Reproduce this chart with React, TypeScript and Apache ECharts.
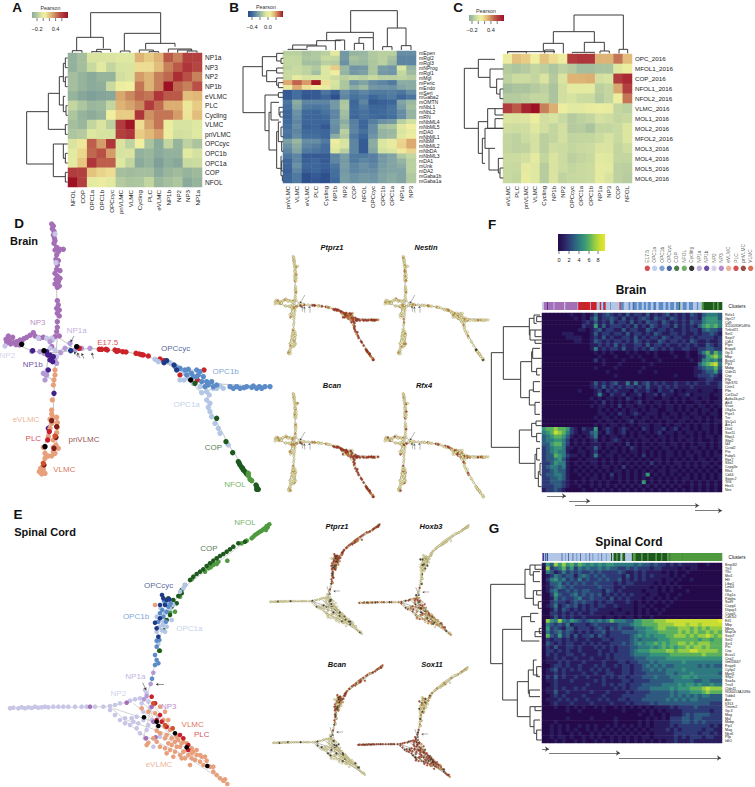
import React, { useEffect, useRef } from "react";
import * as echarts from "echarts";

const FONT = "Liberation Sans";

/* ---------- A ---------- */
const aRows = ["NP1a","NP3","NP2","NP1b","eVLMC","PLC","Cycling","VLMC","pnVLMC","OPCcyc","OPC1b","OPC1a","COP","NFOL"];
const aCols = ["NFOL","COP","OPC1a","OPC1b","OPCcyc","pnVLMC","VLMC","Cycling","PLC","eVLMC","NP1b","NP2","NP3","NP1a"];
const aValues = [
[-.28,-.2,-.02,-.02,-.02,0,0,.28,.2,.28,.52,.42,.6,.6],
[-.28,-.2,-.08,.02,-.1,-.03,-.02,.15,.15,.25,.42,.52,.65,.58],
[-.2,-.27,-.33,-.27,-.27,-.05,-.02,.35,.28,.42,.48,.68,.55,.42],
[-.2,-.27,-.33,-.3,-.08,.08,.1,.45,.28,.42,.8,.48,.42,.55],
[-.27,-.35,-.4,-.36,-.35,.32,.4,.48,.45,.65,.52,.52,.25,.27],
[-.1,-.17,-.25,-.23,-.1,.28,.33,.4,.62,.47,.3,.3,.12,.2],
[-.17,-.27,-.32,-.27,.1,.2,.2,.65,.38,.45,.45,.35,.13,.25],
[-.2,-.25,-.1,-.02,-.13,.62,.78,.15,.33,.45,.08,-.03,-.03,0],
[-.17,-.15,0,-.03,-.03,.6,.65,.2,.26,.35,.08,-.05,-.04,0],
[-.02,.12,.5,.35,.65,-.02,-.12,.1,-.18,-.33,-.1,-.27,-.12,-.18],
[.02,.17,.48,.55,.35,-.03,-.02,-.28,-.25,-.33,-.28,-.28,.02,-.04],
[.03,.22,.65,.5,.5,0,-.1,-.33,-.27,-.4,-.3,-.35,-.08,-.07],
[.62,.6,.23,.18,.15,-.2,-.22,-.2,-.2,-.33,-.25,-.22,-.27,-.23],
[.8,.6,.03,.07,.02,-.15,-.18,-.17,-.1,-.25,-.2,-.17,-.33,-.27],
];
/* ---------- B ---------- */
const bRows = ["mEpen","mRgl2","mRgl3","mNProg","mRgl1","mMgl","mPeric","mEndo","mSert","mGaba2","mOMTN","mNbL1","mNbL2","mRN","mNbML4","mNbML5","mDA0","mNbML1","mNbM","mNbML2","mNbDA","mNbML3","mDA1","mUnk","mDA2","mGaba1b","mGaba1a"];
const bCols = ["pnVLMC","VLMC","eVLMC","PLC","Cycling","NP1b","NP2","COP","NFOL","OPCcyc","OPC1b","OPC1a","NP1a","NP3"];
const bValues = [
[-.1,-.1,-.14,-.12,-.1,.02,-.25,-.18,-.17,-.12,-.1,-.1,-.28,-.28],
[-.08,-.08,-.13,-.12,-.07,-.08,-.25,-.14,-.16,-.12,-.1,-.14,-.3,-.3],
[-.08,-.08,-.15,-.15,-.1,-.11,-.27,-.16,-.17,-.13,-.1,-.16,-.3,-.3],
[-.09,-.07,-.09,-.12,-.01,.14,-.17,-.26,-.25,-.13,-.24,-.26,-.03,-.18],
[-.07,-.07,-.09,-.15,-.02,.06,-.18,-.25,-.23,-.13,-.25,-.26,-.08,-.16],
[-.07,.03,-.04,-.02,-.02,-.06,-.1,-.08,-.1,-.07,-.1,-.1,-.09,-.11],
[.2,.3,.22,.4,.1,-.04,-.13,-.26,-.22,-.28,-.3,-.33,-.2,-.2],
[.04,.2,.1,.07,.03,-.05,-.13,-.2,-.16,-.25,-.26,-.27,-.22,-.2],
[-.42,-.36,-.42,-.42,-.34,-.4,-.28,-.33,-.3,-.33,-.33,-.32,-.34,-.28],
[-.42,-.36,-.44,-.42,-.38,-.46,-.3,-.35,-.33,-.38,-.35,-.33,-.38,-.34],
[-.34,-.2,-.3,-.3,-.3,-.25,-.13,-.38,-.3,-.42,-.4,-.38,-.22,-.17],
[-.36,-.22,-.33,-.34,-.33,-.25,-.12,-.37,-.33,-.38,-.38,-.35,-.24,-.15],
[-.38,-.27,-.37,-.38,-.35,-.3,-.15,-.37,-.35,-.38,-.37,-.35,-.28,-.18],
[-.38,-.28,-.38,-.38,-.37,-.3,-.16,-.38,-.35,-.37,-.38,-.36,-.28,-.18],
[-.37,-.3,-.38,-.38,-.38,-.27,-.2,-.32,-.38,-.32,-.27,-.25,-.1,-.05],
[-.36,-.28,-.4,-.38,-.43,-.28,-.17,-.31,-.38,-.28,-.15,-.13,0,.07],
[-.34,-.3,-.37,-.37,-.38,-.28,-.1,-.3,-.35,-.28,-.18,-.17,-.03,.03],
[-.35,-.28,-.36,-.36,-.38,-.2,-.12,-.33,-.38,-.26,-.18,-.16,0,.05],
[-.23,-.17,-.28,-.28,-.33,.05,-.04,-.3,-.42,-.2,-.03,.03,.12,.2],
[-.27,-.2,-.3,-.32,-.36,.03,-.03,-.3,-.42,-.2,-.02,.03,.13,.2],
[-.3,-.22,-.33,-.34,-.36,-.02,-.1,-.3,-.42,-.22,-.05,-.03,.08,.12],
[-.34,-.3,-.42,-.42,-.42,-.3,-.24,-.33,-.33,-.32,-.25,-.22,-.12,-.08],
[-.38,-.3,-.4,-.38,-.42,-.3,-.25,-.33,-.3,-.32,-.25,-.22,-.18,-.1],
[-.38,-.27,-.38,-.38,-.4,-.34,-.24,-.3,-.27,-.3,-.24,-.22,-.2,-.1],
[-.4,-.3,-.4,-.38,-.42,-.36,-.25,-.3,-.28,-.28,-.23,-.22,-.22,-.1],
[-.38,-.33,-.46,-.42,-.46,-.36,-.24,-.27,-.25,-.26,-.22,-.2,-.22,-.12],
[-.38,-.33,-.46,-.44,-.46,-.37,-.24,-.27,-.25,-.26,-.22,-.2,-.22,-.12],
];
/* ---------- C ---------- */
const cRows = ["OPC_2016","MFOL1_2016","COP_2016","NFOL1_2016","NFOL2_2016","VLMC_2016","MOL1_2016","MOL2_2016","MFOL2_2016","MOL3_2016","MOL4_2016","MOL5_2016","MOL6_2016"];
const cCols = ["eVLMC","PLC","pnVLMC","VLMC","Cycling","NP1b","NP2","OPCcyc","OPC1a","OPC1b","NP1a","NP3","COP","NFOL"];
const cValues = [
[.08,.24,.2,.1,.23,.15,.08,.62,.65,.65,.28,.28,.45,.25],
[-.15,-.17,-.15,-.1,-.13,-.17,-.12,-.15,-.2,-.2,-.18,-.18,0,.08],
[-.12,-.07,-.07,-.1,-.02,-.15,-.02,.28,.28,.3,-.05,-.03,.62,.7],
[-.2,-.18,-.18,-.15,-.12,-.18,-.05,.03,.03,.03,-.13,-.1,.32,.6],
[-.15,-.15,-.13,-.1,-.1,-.18,-.05,-.03,-.07,-.07,-.15,-.1,.08,.45],
[.62,.52,.72,.8,.42,.3,.08,.02,.02,.06,.07,.05,-.1,-.12],
[-.01,-.02,-.01,.08,-.05,-.03,-.08,-.15,-.12,-.1,-.04,-.06,-.1,-.08],
[-.06,-.07,-.06,0,-.05,-.1,-.05,-.15,-.14,-.18,-.1,-.1,-.08,-.01],
[-.1,-.12,-.07,-.04,-.13,-.1,-.05,-.11,-.1,-.1,-.07,-.03,-.08,-.01],
[-.1,-.12,-.11,-.04,-.13,-.06,-.07,-.1,-.08,-.07,-.02,-.02,-.1,-.06],
[-.07,-.07,-.05,.03,-.1,-.02,-.07,-.13,-.1,-.08,.02,0,-.1,-.1],
[-.08,-.09,.04,0,-.14,-.02,-.07,-.1,-.08,-.07,.04,.02,-.12,-.13],
[-.08,-.1,.06,0,-.14,-.02,-.11,-.09,-.08,-.07,.04,-.02,-.12,-.14],
];
const pearsonWarm = ["#7f9f9b","#8fae9b","#a5bf9e","#c4d6a0","#dfe8a0","#f0eea0","#e8cc84","#dcae72","#c98a5e","#bd5f4c","#b2403f","#a92a33","#9e1124"];
const pearsonCool = ["#2c4a8a","#3f6a9c","#6f95a6","#a3bfa0","#d6e4a0","#f2eea0","#e2b878","#c46a50","#a01624"];
const viridisLike = ["#240a4a","#2a1d5e","#2e3a75","#2d5a7e","#2f7a80","#37957a","#5bb060","#94cc45","#c8dd35","#e8e52b"];

/* ---------- Dendrograms: top [xL,xR,yTop,yBotL,yBotR]; left [yT,yB,x,xEndT,xEndB] ---------- */
const aTopTree = [[272,482,38,112,100],[373,482,100,152,130],[230,310,112,152,145],[217,246,152,158,158],[290,332,148,156,156],[275,304,155,158,158],[361,390,153,158,158],[437,525,130,148,140],[418,460,150,158,155],[447,476,155,158,158],[505,575,147,157,150],[533,575,150,158,153],[562,591,153,158,158]];
const aLeftTree = [[335,492,80,145,160],[280,388,145,178,196],[374,403,196,203,203],[230,315,178,190,190],[190,245,190,196,196],[174,203,196,203,203],[231,260,196,203,203],[289,335,190,196,198],[317,346,198,203,203],[432,530,160,190,196],[432,475,190,203,196],[460,489,196,203,203],[517,546,196,203,203]];
const bTopTree = [[317,457,32,97,84],[245,385,97,122,113],[427,483,84,140,137],[413,441,140,150,150],[469,498,137,150,150],[215,287,122,135,120],[271,299,120,150,150],[342,385,113,130,150],[328,356,130,150,150],[143,215,135,148,138],[129,186,148,150,150],[186,243,138,145,150]];
const bLeftTree = [[200,338,-6,52,60],[170,228,52,95,65],[160,183,95,115,108],[175,190,108,115,115],[212,245,65,95,95],[204,219,95,115,115],[234,256,95,115,100],[248,263,100,115,115],[285,392,60,100,72],[278,292,100,115,115],[337,450,72,78,95],[307,360,78,102,102],[322,345,102,115,105],[336,351,105,115,115],[395,505,95,100,108],[366,425,100,108,110],[381,410,108,115,115],[425,454,110,115,115],[469,527,108,110,112],[483,513,110,115,115],[527,542,112,115,115]];
const cTopTree = [[237,385,45,95,148],[175,298,95,130,127],[372,398,148,160,160],[145,205,130,153,160],[268,328,127,155,153],[38,180,155,160,155],[149,177,150,160,160],[232,298,157,160,160],[315,343,153,160,160],[38,94,155,160,160]];
const cLeftTree = [[205,385,-92,-50,-50],[178,232,-50,0,-15],[207,262,-15,25,5],[237,282,5,25,15],[267,296,15,25,25],[365,460,-50,-22,-38],[326,385,-22,0,0],[356,385,0,25,25],[326,345,0,25,25],[415,490,-38,-30,-30],[385,445,-30,25,-18],[445,510,-18,0,10],[475,519,10,25,15],[504,534,15,25,25]];
const fLeftTree = [[413,697,4,40,88],[335,493,40,118,92],[310,360,118,132,120],[300,325,132,150,140],[305,320,140,155,155],[345,375,120,135,135],[345,365,135,155,155],[375,385,135,155,155],[440,548,92,125,118],[410,470,125,128,140],[400,430,128,150,155],[460,480,140,155,150],[525,570,118,130,135],[500,530,130,150,150],[562,598,135,150,150],[645,745,88,125,135],[625,665,125,138,140],[618,632,138,155,155],[655,680,140,155,150],[718,790,135,140,145],[700,735,140,150,150],[770,815,145,150,155],[745,780,150,155,155]];
const gLeftTree = [[253,491,2,105,38],[388,600,38,95,82],[208,295,105,120,130],[195,225,120,135,130],[195,208,135,155,155],[215,245,130,150,150],[272,315,130,140,145],[272,285,140,155,155],[305,325,145,155,155],[350,423,95,122,148],[340,365,122,145,135],[395,410,135,155,155],[385,400,148,155,155],[545,650,82,115,120],[510,580,115,130,118],[480,525,130,140,145],[500,530,140,155,150],[570,590,118,150,150],[620,680,120,135,132],[620,632,135,155,155],[660,700,132,150,140],[690,720,140,155,155]];

/* ---------- F, G heatmaps: one digit (0-9 expression) per block ---------- */
const fGenes = ["Rele1","Gpr17","Cd9","3110035E14Rik","Tnfrsf21","Sirt2","Sept7","Cdh1","Ptpn","Enpp6","Gjc3","Mbp","Bcas1","Plp1","Mobp","Cldn11","Cnp","Pllp","Gpr37l1","Cntn1","Plin","Col11a2","Apba1b-ps2","Abi3","Vcan","Olig1a","Ptpz1","Tnr","Slc1a1","Arx1","Dlx6","Sox11","Rbpj1","Sfrp2","Id4","Ccnd2","Ptn","Fabp5","Rgs7","Sox2","Cspg3e","Rfx4","Cd44","Sparc2","Tcf4","Hes5","Nes"];
const gGenes = ["Bnip3l2","Tfr3","Tfrc","Mxi1","Hlf","Ltbp1","Lmo3","Nfia","Olig1a","Pdgfra","Sox9","Cspg4","Dlgap1","Cspg5","Cdk5r2","Eif1","Mbp","Mbsn","Map1b","Sept7","Sirt2","Sirt1","Ptn","Cnp","Bcas1","Cnp2","Gm33667","Enpp6","Cyfip2","Mpzl1","Sfrp2","Sox4a","Tns3","Cldn11","9630013A20Rik","Tubb4","Apc","Klf13","Tmem2","Gjc3","Mog","Mal","Mobp","Plp1","Mag","Nkx6","Pllp","Idh1"];
const fRowsText = ["000000010010131232121312213121231212132134443","000000001010241223213121232132213212122145553","000000000012131213122131213221321212132245554","000000000021151312221213121321221312121356564","000000000110123122113122113212212112122134332","000001110000131221221312212132112212112122321","000000111100121312112213121221321221121222212","000000001100132121221213212113212212132112112","000000000000112121312112213122121121212113212","000000000000141212213112121321212112211223322","000000000000010101000101001010001000100246364","000000000000001000100010100010000100100125675","000000000000020100001000010001000000010145453","000000000000000100010000000100000000000356784","000000000000010000100000010000000000001234463","000000000000000010000000100010000000001123352","000000000000000000100000000000000100001222321","000000000000000000000000000000000000000112211","000000000000131212311414123121211211212112112","000000000000121312121221213112121211121111112","000000000100012021211102112102112010111011101","000000000000014102112011201120211011201111011","000000000000101011010210101100110101011011001","000000000000010201010101201011010101001101011","000000000000101101020110110101011010110110101","000000000000001010101011010110011010101011010","000000000000001101021012101110101101011010110","000000000000010110101101011010110101101101010","000000000000001011010120110101011011010101011","000000000000010101101010111011010110101011010","566766521021150121012101021011201201101011010","456876421011341021012010101012011010110101010","345665310101240101101010110101101011010101101","344554201010120101210101011010101010110100101","335664201010111011010201010101101101010110101","234554110101131010101021011010110101011010101","234544100110120101101011010101011010101101010","233654211010141011010101020101011010110101011","233453100101110101011010101011010101010110101","223544101010110101010101010201010110101011010","234434100101010110102010101010101010101010101","223433101010101010110101010101101101010101010","233443100101010102010101015010101010101010101","223343100010110101010101010101010101101010101","223332101010101010010101050101010101010101010","222332100100101010101010101010101010010101010","122321000010010101010101010101010101010101010"];
const gRowsText = ["153757564654545455444443433232212121111001000","072346352434334343322323222122111101011000000","043124232322323222232112121111010100100000000","012432331343232322221312121211110101000000000","024534232423223232231212121111011010010000000","013342323232232222121221111101010100000000000","012343232222223222112111111010101010000000000","013422323233222132121111101110101000100000000","002532234232323121212121110110010010000000000","001423223422322213121211101101010100000000000","002322123232212122111210101010101000000000000","012412323121212211211110110100010000000000000","001313212121221111101110101010100000000000000","002212121211211110111010101001000000000000000","001312121121111011010110100100000000000000000","075474354323434346444335566677788888888888889","043232412221232222233345566667777888788788888","052321331222123213232224445567766677767676777","042342321212122312223333445556666676767667676","063252313122313212222234545455566777676778767","021221212112111221222234344445556666666566566","032121221121212112223234545565656677676777666","021311221211121212122233444545656566767767666","022121211211112112122234555666677677788777776","021211221121112121222234444555556666666676666","011212112111211121222223334444455555555555555","011121211121111211122122333434444445444444444","001221211211121211212212234343433444444343433","012312121211212121112212233434344445444444444","011212111121121122112212223333344344454444443","021312112112111212122122233343334445545444444","011211121111121211112212222333333444443344333","001211111112111212122122233333444454554544544","011212112121111111212122333444445455566678777","011311211111211121111212222333334344455567666","001212111121111211112222223333334343434344333","011121212112112121122122233333343434344333333","001211121111211112111212222323333333333333222","000100101010010100101010101011112122223222222","000000100100000100001000010101011112222222122","000000000000000000000000100100101112323333222","000000100000100000100000001010102223323322222","000100000000000000100000101011112223323232222","001010100101010010101010101011112122222222121","001010101001010101010101010111121212222212211","001010010100101010101010101011111222222122121","001011010010101001010101011011111212122212211","000101001010010101010101010101011211121111111"];
const heatColumns = Array.from({ length: 45 }, (_, i) => String(i));

/* ---------- clusters ---------- */
const clusterNames = ["E17.5","OPC1a","OPC1b","OPCcyc","COP","NFOL","Cycling","NP1a","NP1b","NP2","NP3","eVLMC","PLC","pnVLMC","VLMC"];
const clusterColors = ["#cc2229","#b3c6e6","#5b8cc8","#1f3b87","#1e5a1e","#4f9a3f","#000000","#b39ad6","#46208a","#c8c6e6","#a56fb8","#e8a07c","#c8202a","#7a2018","#d0502a"];
const fStrip: [number, number][] = [[9,5],[10,8],[8,3],[10,12],[7,4],[10,24],[9,3],[10,30],[7,3],[0,13],[13,1],[0,16],[9,2],[0,15],[1,8],[0,4],[1,5],[3,2],[0,4],[1,8],[9,3],[2,2],[1,22],[0,3],[2,8],[1,12],[2,5],[1,6],[3,2],[2,8],[1,4],[2,9],[1,5],[2,6],[1,4],[2,8],[1,6],[2,4],[3,2],[1,8],[2,12],[1,5],[2,8],[1,4],[2,10],[1,5],[2,8],[4,3],[1,6],[2,10],[1,6],[2,10],[1,10],[2,4],[1,8],[5,5],[4,24],[5,3],[4,8],[5,4],[4,8]];
const gStrip: [number, number][] = [[10,3],[3,3],[1,3],[3,2],[1,2],[3,3],[1,38],[3,2],[1,8],[2,2],[1,6],[3,2],[1,10],[3,2],[1,8],[2,3],[1,8],[3,2],[1,12],[2,3],[1,8],[3,2],[1,6],[2,3],[1,12],[2,2],[1,8],[3,2],[1,10],[2,2],[1,12],[4,3],[1,4],[4,8],[5,3],[4,8],[1,4],[5,3],[4,6],[1,18],[4,4],[5,6],[4,16],[5,3],[4,14],[5,2],[4,20],[5,4],[4,12],[5,2],[4,14],[5,6],[4,3],[5,32],[4,1],[5,28],[5,80]];
const clusterDots = [472,494,516,538,560,583,605,628,650,672,694,716,738,760,782];

/* ---------- D network points ---------- */
const dNP3 = [[155,42],[160,48],[157,56],[162,64],[160,75],[163,84],[165,92],[162,100],[170,112],[180,118],[190,118],[175,125],[165,120],[170,135],[168,148],[175,152],[172,165],[170,178],[180,182],[165,190],[172,198],[180,205],[168,208],[175,215],[165,222],[172,232],[178,228],[172,272],[175,285],[170,295],[178,300],[172,310],[178,318],[172,335],[172,352],[170,365],[178,378],[165,380],[100,368],[90,376],[105,378],[80,382],[72,386],[60,390],[50,395],[25,378],[38,382],[18,388],[28,392],[42,398],[20,398],[32,402],[48,404],[58,405],[65,398],[130,382],[118,385],[155,410]];
const dNP2 = [[15,408],[165,72],[168,158],[115,385],[155,385],[165,420],[158,390],[140,385],[150,415],[170,440]];
const dNP1a = [[95,424],[120,425],[132,430],[170,460],[182,428],[195,415],[210,400],[225,420],[245,415],[270,415],[150,395],[135,510],[140,495],[142,480],[150,440],[138,495],[130,490],[165,450]];
const dNP1b = [[98,422],[140,425],[150,435],[155,445],[160,440],[150,450],[158,455],[145,480],[162,550],[145,655],[143,435]];
const dE175 = [[298,418],[318,418],[322,420],[345,420],[355,422],[368,425],[378,426],[408,430],[418,432],[430,435],[445,438],[480,447],[492,452],[540,495],[612,480],[592,510],[238,415],[305,418],[350,424],[425,434]];
const dOPCcyc = [[212,422],[492,458],[500,452],[522,465],[530,480]];
const dOPC1a = [[465,448],[475,455],[510,458],[530,470],[545,480],[555,490],[540,510],[565,505],[580,520],[600,530],[620,545],[605,548],[628,555],[640,535],[620,570],[630,580],[625,592],[630,605],[635,620],[645,640],[655,655],[660,670],[685,705],[552,510],[570,490],[660,528],[650,535],[670,535]];
const dOPC1b = [[525,470],[540,475],[555,480],[565,478],[575,490],[590,480],[600,485],[595,495],[580,500],[610,500],[605,515],[620,515],[635,515],[640,530],[625,525],[650,525],[690,530],[710,530],[720,535],[740,530],[755,532],[770,535],[785,535],[795,530],[810,530],[700,535],[732,533],[760,528],[778,530],[590,500],[560,495],[615,530]];
const dCOP = [[650,625],[678,695],[698,728],[715,755],[720,765],[725,772],[730,780],[735,785],[740,792],[718,760],[728,775],[585,520],[770,830],[775,838],[770,838],[768,825]];
const dNFOL = [[750,808],[745,797],[745,790],[755,812]];
const dCycling = [[65,403],[132,422],[230,410],[135,710],[572,510]];
const deVLMC = [[165,480],[165,495],[162,510],[160,525],[157,570],[155,600],[155,612],[160,622],[170,622],[172,638],[150,628],[172,652],[170,668],[160,690],[168,705],[175,715],[160,712],[155,640],[150,655],[130,712],[135,730],[145,738],[155,738],[165,730],[135,745],[122,775],[130,778],[118,785],[125,792],[135,790],[128,770],[160,725],[145,680]];
const dPLC = [[143,690],[148,665]];
const dpnVLMC = [[170,650],[168,682],[155,632],[162,715],[132,765]];
const dVLMC = [[130,760],[165,678]];
const dEdges = [[[155,42],[165,120],[170,230],[172,380],[165,470],[160,600],[155,625],[172,650],[170,700],[165,735],[135,740],[135,700],[148,640],[155,610]],[[135,740],[125,790]],[[18,388],[60,395],[100,372],[150,385],[172,380]],[[18,388],[60,408],[100,424],[150,430],[215,410],[172,380]],[[150,430],[270,415],[380,425],[470,448],[540,480],[620,520],[810,530]],[[620,520],[625,590],[690,710],[775,838]],[[540,480],[605,550],[640,535]],[[555,480],[600,480],[625,525]],[[145,430],[138,500],[162,510]]];
const dArrows = [[[222,378],[212,396]],[[235,442],[222,425]],[[240,444],[232,428]],[[252,446],[245,430]],[[280,446],[276,428]]];
const dMiniArrows = [[[246,339],[208,403]],[[228,467],[223,423]],[[246,475],[241,429]],[[280,475],[280,423]]];
const dLabels: [string,number,number,string][] = [["NP3",113,338,"#a56fb8"],["NP1a",230,360,"#b39ad6"],["E17.5",323,396,"#cc2229"],["OPCcyc",527,415,"#1f3b87"],["OPC1b",677,483,"#5b8cc8"],["NP2",22,435,"#c8c6e6"],["NP1b",98,462,"#46208a"],["OPC1a",560,582,"#b3c6e6"],["eVLMC",78,629,"#e8a07c"],["PLC",100,686,"#c8202a"],["pnVLMC",252,688,"#7a2018"],["COP",640,712,"#1e5a1e"],["VLMC",193,779,"#d0502a"],["NFOL",705,822,"#4f9a3f"]];

/* ---------- E network points ---------- */
const eNFOL = [[808,103],[800,108],[795,115],[790,118],[785,122],[780,125],[775,128],[770,132],[765,135],[760,140],[755,145],[803,112],[798,120],[740,152],[725,160],[682,212],[625,235],[640,225],[650,222],[632,232],[615,245],[575,268],[655,215],[480,482],[510,368],[540,320],[525,365]];
const eCOP = [[735,155],[715,160],[700,170],[690,178],[680,185],[670,192],[660,198],[650,205],[640,212],[630,220],[620,228],[610,238],[600,245],[590,252],[580,260],[570,270],[555,285],[545,300],[535,318],[520,330],[505,325],[510,375],[500,390],[530,340],[478,482],[545,310],[515,350],[490,420]];
const eOPCcyc = [[486,315],[490,325],[500,330],[480,385],[465,398],[470,415],[475,440],[495,345],[480,345],[508,328]];
const eOPC1b = [[495,340],[487,360],[500,365],[490,380],[505,350],[512,340],[480,370],[475,395],[478,450],[470,470],[465,495],[470,510],[465,525],[475,520],[456,566],[492,332],[498,395],[470,452]];
const eOPC1a = [[520,345],[510,355],[490,395],[500,410],[485,420],[470,425],[495,425],[488,405],[515,390],[540,305],[550,295],[555,285],[475,462],[505,340],[482,355],[470,380],[495,370],[478,410]];
const eNP2 = [[30,655],[40,653],[55,655],[65,652],[75,655],[85,652],[95,654],[105,650],[115,653],[125,652],[135,650],[145,652],[160,650],[175,650],[190,650],[205,650],[225,650],[245,650],[260,650],[285,650],[310,650],[330,648],[345,645],[360,640],[390,632],[405,628],[420,625],[330,660],[345,675],[360,690],[375,700],[390,705],[400,695],[410,715],[420,730],[435,745],[415,700],[430,690],[440,720],[445,635],[440,610],[435,600],[425,640],[450,655],[395,685],[410,680],[375,685],[430,665],[455,690],[475,680],[480,740],[460,770],[445,705]];
const eNP1a = [[460,548],[452,582],[440,618],[432,628]];
const eNP3 = [[380,638],[270,650],[460,695],[467,742],[438,745],[455,650]];
const eVLMCpts = [[425,655],[445,665],[465,670],[490,690],[470,722],[495,745],[505,760],[515,745],[525,755],[540,770],[550,785],[565,795],[575,805],[585,810],[600,815],[610,825],[630,830],[640,845],[650,855],[660,865],[670,872],[682,882],[675,868],[640,830],[620,812],[605,800],[590,795],[575,790],[560,780],[545,760],[530,740],[510,720],[495,710],[470,755],[480,770],[495,775],[510,780],[525,785],[540,795],[555,805],[570,825],[445,758],[440,765],[460,745],[480,730],[500,735],[515,765],[530,770],[575,775],[590,780],[600,795],[615,800],[535,750],[550,755],[500,790],[520,800],[465,640],[480,650],[495,665],[505,690],[465,345],[580,785],[560,760],[545,805]];
const ePLC = [[455,620],[465,640],[470,690],[485,695],[500,710],[540,735],[565,765],[550,745],[565,780],[480,675]];
const eVLMCdark = [[518,715],[495,705],[460,640]];
const eCycling = [[432,682],[475,708],[525,730],[622,828],[470,695],[560,772]];
const eEdges = [[[30,655],[330,650],[440,620],[455,570],[480,440],[540,300],[808,103]],[[330,650],[420,730],[560,800],[682,882]],[[440,620],[520,720],[682,882]],[[440,625],[470,720],[560,790]],[[340,655],[475,700],[600,815]],[[400,640],[500,720]],[[430,640],[540,740]],[[380,690],[540,745]],[[455,650],[430,745]],[[490,350],[530,340]],[[500,330],[520,370]]];
const eArrows = [[[428,578],[438,600]],[[492,583],[468,583]]];
const eMiniArrows = [[[433,543],[457,607]],[[528,579],[481,579]]];
const eLabels: [string,number,number,string][] = [["NFOL",735,98,"#4f9a3f"],["COP",627,175,"#1e5a1e"],["OPCcyc",476,285,"#1f3b87"],["OPC1b",408,380,"#5b8cc8"],["OPC1a",568,415,"#b3c6e6"],["NP1a",406,558,"#b39ad6"],["NP2",355,610,"#c8c6e6"],["NP3",506,650,"#a56fb8"],["VLMC",578,703,"#d0502a"],["PLC",605,733,"#c8202a"],["eVLMC",477,822,"#e8a07c"]];

/* ---------- gene expression patterns by cluster group (y pale, o orange, r red, k black) ---------- */
const levelColors: Record<string,string> = { y:"#efe8ae", o:"#d07a30", r:"#a31a1a", k:"#1a1a1a" };
const dGenes = [
 { gene:"Ptprz1", opc:"rrrro", cop:"rrro", e17:"yrryo", np:"yyyyoyy", vl:"yyyyyyo" },
 { gene:"Nestin", opc:"yyoyyy", cop:"yyyyk", e17:"yyyoy", np:"yyoyyy", vl:"yyyoyy" },
 { gene:"Bcan", opc:"rrrrry", cop:"rrro", e17:"yyoyy", np:"yyyyoy", vl:"yyyyyo" },
 { gene:"Rfx4", opc:"yyroyy", cop:"yyyy", e17:"yyyr", np:"yyyyryy", vl:"yyyyyr" },
];
const eGenes = [
 { gene:"Ptprz1", opc:"rrkor", cop:"rror", e17:"y", np:"yyyyykyy", vl:"yykyyy" },
 { gene:"Hoxb3", opc:"yyyky", cop:"yyyy", e17:"y", np:"ryoryk", vl:"oyrokyo" },
 { gene:"Bcan", opc:"rokyr", cop:"rorry", e17:"y", np:"yyyyky", vl:"yykyyyy" },
 { gene:"Sox11", opc:"yoyyk", cop:"yyyoy", e17:"y", np:"rrrrk", vl:"rrrork" },
];

/* ---------- chart ---------- */
function buildOption() {
  const grid: any[] = [], xAxis: any[] = [], yAxis: any[] = [], series: any[] = [], visualMap: any[] = [];
  const graphic: any[] = [];

  const hiddenValue = (min: number, max: number, inverse = false) => ({ type: "value", min, max, inverse, show: false, splitLine: { show: false } });
  const addCrop = (left: number, top: number, w: number, h: number, xMin: number, xMax: number, yMax: number) => {
    grid.push({ left, top, width: w, height: h, containLabel: false });
    const i = grid.length - 1;
    xAxis.push({ ...hiddenValue(xMin, xMax), gridIndex: i });
    yAxis.push({ ...hiddenValue(0, yMax, true), gridIndex: i });
    return i;
  };
  const addHeat = (box: number[], rows: string[], cols: string[], values: number[][], range: number[], colors: string[], xFont: number, yFont: number, showX = true) => {
    grid.push({ left: box[0], top: box[1], width: box[2], height: box[3] });
    const i = grid.length - 1;
    xAxis.push({ type: "category", gridIndex: i, data: cols, position: "bottom", axisLine: { show: false }, axisTick: { show: false }, splitLine: { show: false },
      axisLabel: { show: showX, rotate: 90, interval: 0, fontSize: xFont, fontFamily: FONT, color: "#222", margin: 3 } });
    yAxis.push({ type: "category", gridIndex: i, data: rows, inverse: true, position: "right", axisLine: { show: false }, axisTick: { show: false }, splitLine: { show: false },
      axisLabel: { interval: 0, fontSize: yFont, fontFamily: FONT, color: "#222", margin: 3 } });
    const data: number[][] = [];
    values.forEach((r, y) => r.forEach((v, x) => data.push([x, y, v])));
    series.push({ type: "heatmap", xAxisIndex: i, yAxisIndex: i, data, silent: true, progressive: 0, itemStyle: { borderWidth: 0 } });
    visualMap.push({ type: "continuous", show: false, seriesIndex: series.length - 1, min: range[0], max: range[1], inRange: { color: colors }, calculable: false });
  };
  const addTree = (i: number, merges: number[][], horizontal: boolean) => {
    series.push({ type: "custom", xAxisIndex: i, yAxisIndex: i, silent: true, data: merges, z: 5,
      renderItem: (_: any, api: any) => {
        const v = [0,1,2,3,4].map((k) => api.value(k));
        const pts = horizontal
          ? [[v[3],v[0]],[v[2],v[0]],[v[2],v[1]],[v[4],v[1]]]
          : [[v[0],v[3]],[v[0],v[2]],[v[1],v[2]],[v[1],v[4]]];
        return { type: "polyline", shape: { points: pts.map((p) => api.coord(p)) }, style: { stroke: "#3c3c3c", lineWidth: 1, fill: "none" } };
      } });
  };
  const addScatter = (i: number, pts: number[][], color: string, size: number) => {
    series.push({ type: "scatter", xAxisIndex: i, yAxisIndex: i, data: pts, symbolSize: size, silent: true, z: 3, itemStyle: { color, opacity: 1 } });
  };
  const addEdges = (i: number, edges: number[][][], width: number, color = "#9a9a9a") => {
    series.push({ type: "lines", coordinateSystem: "cartesian2d", xAxisIndex: i, yAxisIndex: i, polyline: true, silent: true, z: 2,
      data: edges.map((coords) => ({ coords })), lineStyle: { color, width, opacity: 1 } });
  };
  const addArrows = (i: number, arrows: number[][][], size: number, width = 0.5, color = "#333") => {
    series.push({ type: "lines", coordinateSystem: "cartesian2d", xAxisIndex: i, yAxisIndex: i, silent: true, z: 6, symbol: ["none", "arrow"], symbolSize: size,
      data: arrows.map((coords) => ({ coords })), lineStyle: { color, width, opacity: 1, curveness: 0 } });
  };
  const addLabels = (i: number, labels: [string,number,number,string][], size: number) => {
    series.push({ type: "scatter", xAxisIndex: i, yAxisIndex: i, symbolSize: 0, silent: true, z: 7,
      data: labels.map(([name,x,y,color]) => ({ name, value: [x,y], label: { color } })),
      label: { show: true, position: "inside", formatter: "{b}", fontSize: size, fontFamily: FONT } });
  };

  /* heatmaps A, B, C */
  addHeat([68,53,134,134], aRows, aCols, aValues, [-.4,.8], pearsonWarm, 6.2, 6.6);
  addHeat([283,51,133,132], bRows, bCols, bValues, [-.48,.4], pearsonCool, 6, 5.1);
  addHeat([503,54,129,129], cRows, cCols, cValues, [-.4,.8], pearsonWarm, 6, 6.2);

  const cropA = addCrop(0,0,250,210,0,750,630);
  addTree(cropA, aTopTree, false); addTree(cropA, aLeftTree, true);
  const cropB = addCrop(245,0,250,210,0,750,630);
  addTree(cropB, bTopTree, false); addTree(cropB, bLeftTree, true);
  const cropC = addCrop(495,0,260,210,0,780,630);
  addTree(cropC, cTopTree, false); addTree(cropC, cLeftTree, true);

  /* network D */
  const dSets: [number[][], number][] = [[dEdges as any,-1]];
  const dClusters: [number[][], string, string][] = [
    [dNP3,"#a56fb8","np"],[dNP2,"#c8c6e6","np"],[dNP1a,"#b39ad6","np"],[dNP1b,"#46208a","np"],[dE175,"#cc2229","e17"],[dOPC1a,"#b3c6e6","opc"],[dOPC1b,"#5b8cc8","opc"],[dOPCcyc,"#1f3b87","opc"],[dCOP,"#1e5a1e","cop"],[dNFOL,"#4f9a3f","cop"],[deVLMC,"#e8a07c","vl"],[dPLC,"#c8202a","vl"],[dpnVLMC,"#7a2018","vl"],[dVLMC,"#d0502a","vl"],[dCycling,"#000000","np"],
  ];
  const mainD = addCrop(0,210,280,290,0,840,870);
  addEdges(mainD, dEdges, 0.6);
  dClusters.forEach(([pts,c]) => addScatter(mainD, pts, c, 5.4));
  addArrows(mainD, dArrows, 2.5);
  addLabels(mainD, dLabels, 8);

  /* network E */
  const eClusters: [number[][], string, string][] = [
    [eNP2,"#c8c6e6","np"],[eNP1a,"#b39ad6","np"],[eNP3,"#a56fb8","np"],[eNFOL,"#4f9a3f","e17x"],[eCOP,"#1e5a1e","cop"],[eOPC1a,"#b3c6e6","opc"],[eOPC1b,"#5b8cc8","opc"],[eOPCcyc,"#1f3b87","opc"],[eVLMCpts,"#e8a07c","vl"],[ePLC,"#c8202a","vl"],[eVLMCdark,"#d0502a","vl"],[eCycling,"#000000","vl"],
  ];
  const mainE = addCrop(0,490,280,297,0,840,891);
  addEdges(mainE, eEdges, 0.5, "#a8a8a8");
  eClusters.forEach(([pts,c]) => addScatter(mainE, pts, c, 4.6));
  addArrows(mainE, eArrows, 2.5);
  addLabels(mainE, eLabels, 8);

  /* small expression panels */
  const addMini = (box: number[], range: number[], clusters: [number[][], string, string][], edges: number[][][], arrows: number[][][], g: any, size: number) => {
    const i = addCrop(box[0], box[1], box[2], box[3], 0, range[0], range[1]);
    addEdges(i, edges, 0.5, "#777");
    const data: any[] = [];
    clusters.forEach(([pts,,group]) => {
      const key = group === "e17x" ? "cop" : group;
      const pattern: string = g[key] || "y";
      pts.forEach((p, k) => data.push({ value: p, itemStyle: { color: levelColors[pattern[k % pattern.length]] } }));
    });
    series.push({ type: "scatter", xAxisIndex: i, yAxisIndex: i, data, symbolSize: size, silent: true, z: 3, itemStyle: { borderColor: "#77713a", borderWidth: 0.35 } });
    addArrows(i, arrows, 2, 0.4, "#444");
  };
  const dBoxes = [[273,251,109,113],[383,251,109,113],[273,388,109,113],[383,388,109,113]];
  const eBoxes = [[266,510,118,125],[355,511,118,125],[269,651,118,125],[354,653,118,125]];
  const eMiniClusters = eClusters.map(([p,c,g]) => [p,c,g === "e17x" ? "nfol" : g] as [number[][], string, string]);
  dGenes.forEach((g, i) => addMini(dBoxes[i], [840,870], dClusters, dEdges, dMiniArrows, g, 2.4));
  eGenes.forEach((g, i) => addMini(eBoxes[i], [840,891], eMiniClusters, eEdges, eMiniArrows, { ...g, nfol: g.cop }, 1.9));

  /* heatmaps F, G */
  const toMatrix = (rows: string[]) => rows.map((r) => r.padEnd(45, "0").slice(0, 45).split("").map(Number));
  addHeat([542,313,180,179], fGenes, heatColumns, toMatrix(fRowsText), [0,9], viridisLike, 4, 3.6, false);
  addHeat([542,563,180,180], gGenes, heatColumns, toMatrix(gRowsText), [0,9], viridisLike, 4, 3.6, false);
  const cropF = addCrop(490,215,265,285,0,795,855);
  addTree(cropF, fLeftTree, true);
  const cropG = addCrop(490,500,265,287,0,795,861);
  addTree(cropG, gLeftTree, true);

  /* cluster strips */
  const addStrip = (top: number, segs: [number, number][]) => {
    const total = segs.reduce((s, [, w]) => s + w, 0);
    const i = addCrop(542, top, 180, 8, 0, total, 1);
    let at = 0;
    const data = segs.map(([c, w]) => { const d = [at, at + w, c]; at += w; return d; });
    series.push({ type: "custom", xAxisIndex: i, yAxisIndex: i, silent: true, data,
      renderItem: (_: any, api: any) => {
        const a = api.coord([api.value(0), 0]), b = api.coord([api.value(1), 1]);
        return { type: "rect", shape: { x: a[0], y: a[1], width: b[0] - a[0] + 0.3, height: b[1] - a[1] }, style: { fill: clusterColors[api.value(2)] } };
      } });
  };
  addStrip(302, fStrip); addStrip(553, gStrip);

  /* cluster legend */
  series.push({ type: "scatter", xAxisIndex: cropF, yAxisIndex: cropF, symbolSize: 5.4, silent: true,
    data: clusterNames.map((name, i) => ({ name, value: [clusterDots[i], 160], itemStyle: { color: clusterColors[i] } })),
    label: { show: true, position: "top", rotate: 90, formatter: "{b}", fontSize: 4.8, fontFamily: FONT, color: "#333", distance: 3, align: "left", verticalAlign: "middle" } });

  /* arrows under F and G */
  const fPage = addCrop(0,0,755,787,0,755,787);
  addArrows(fPage, [[[547,496],[566,496]],[[569,501],[590,501]],[[575,505.6],[699,505.6]],[[695,510.7],[722,510.7]],[[542,749],[549,749]],[[549,753],[620,753]],[[619,758],[721,758]]], 4, 0.7, "#444");

  /* texts and colour bars */
  const txt = (text: string, x: number, y: number, size: number, extra: any = {}) =>
    ({ type: "text", x, y, silent: true, style: { text, fontSize: size, fontFamily: FONT, fill: "#111", textAlign: "center", textVerticalAlign: "middle", ...extra } });
  const panelLetters: [string,number,number][] = [["A",17,7],["B",234,7],["C",458,7],["D",19,223],["E",18,514],["F",492,224],["G",494,528]];
  panelLetters.forEach(([t,x,y]) => graphic.push(txt(t,x,y,13.5,{ fontWeight:"bold" })));
  graphic.push(txt("Brain",24,241,11,{ fontWeight:"bold" }));
  graphic.push(txt("Spinal Cord",45,532,11,{ fontWeight:"bold" }));
  graphic.push(txt("Brain",631,290,12,{ fontWeight:"bold" }));
  graphic.push(txt("Spinal Cord",629,542,12,{ fontWeight:"bold" }));
  graphic.push(txt("Clusters",737,306,4.6));
  graphic.push(txt("Clusters",737,557,4.6));
  const geneTitles: [string,number,number][] = [["Ptprz1",332,247],["Nestin",426,247],["Bcan",332,385],["Rfx4",424,385],["Ptprz1",337,526],["Hoxb3",431,526],["Bcan",337,664],["Sox11",432,664]];
  geneTitles.forEach(([t,x,y]) => graphic.push(txt(t,x,y,7.5,{ fontWeight:"bold", fontStyle:"italic" })));

  const bar = (x: number, y: number, w: number, h: number, stops: string[], title: string | null, titleX: number, titleY: number, ticks: number[], labels: [string,number][], labelY: number) => {
    graphic.push({ type: "rect", silent: true, shape: { x, y, width: w, height: h },
      style: { fill: new echarts.graphic.LinearGradient(0,0,1,0, stops.map((color,i) => ({ offset: i/(stops.length-1), color }))) } });
    ticks.forEach((t) => graphic.push({ type: "line", silent: true, shape: { x1: t, y1: y + h, x2: t, y2: y + h + 3 }, style: { stroke: "#222", lineWidth: 0.6 } }));
    if (title) graphic.push(txt(title, titleX, titleY, 5.4, { fill: "#333" }));
    labels.forEach(([t,lx]) => graphic.push(txt(t, lx, labelY, 5.6, { fill: "#222" })));
  };
  const warmBarStops = pearsonWarm.slice(1);
  bar(32,12,36,6,warmBarStops,"Pearson",50.5,8,[37,43.2,49.4,55.6,61.8],[["\u22120.2",37],["0.4",55.6]],29);
  bar(248,11,35,6,pearsonCool,"Pearson",266,7,[252,260,268,276],[["\u22120.4",252],["0.0",268]],27);
  bar(469,15,35,6,warmBarStops,"Pearson",486,11,[472,478.3,484.6,490.9,497.2],[["\u22120.2",472],["0.4",490.9]],30);
  bar(558,234,47,17,viridisLike,null,0,0,[559,569,579,589,598],[["0",559],["2",569],["4",579],["6",589],["8",598]],260);

  return { animation: false, backgroundColor: "#fff", grid, xAxis, yAxis, series, visualMap, graphic, tooltip: { show: false } };
}

export default function App() {
  const ref = useRef<HTMLDivElement>(null);
  useEffect(() => {
    document.body.style.margin = "0";
    const chart = echarts.init(ref.current!, null, { renderer: "svg" });
    chart.setOption(buildOption() as any);
    return () => chart.dispose();
  }, []);
  return <div ref={ref} style={{ width: 755, height: 787 }} />;
}
